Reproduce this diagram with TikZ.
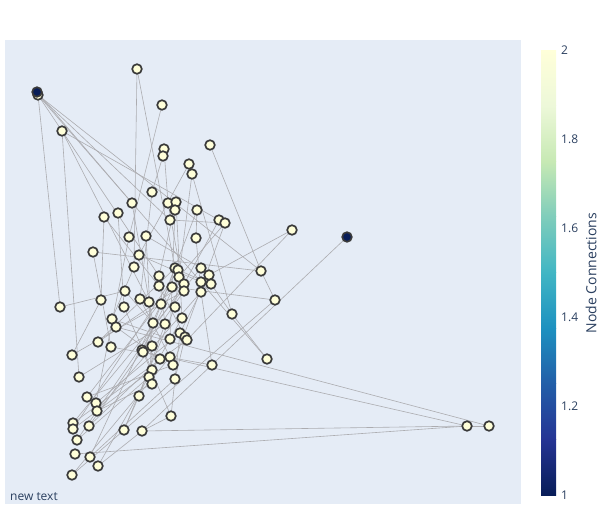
\documentclass[tikz,border=0pt]{standalone}
\usepackage{fontspec}
\setmainfont{Open Sans}
\pgfdeclarelayer{plotbg}
\pgfdeclarelayer{links}
\pgfsetlayers{plotbg,links,main}

\definecolor{plotfill}{RGB}{229,236,246}
\definecolor{linkgray}{RGB}{172,172,176}
\definecolor{nodeline}{RGB}{58,58,58}
\definecolor{lowdeg}{RGB}{8,29,88}
\definecolor{highdeg}{RGB}{255,255,217}
\definecolor{axistext}{RGB}{42,63,95}
\definecolor{cbA}{RGB}{8,29,88}
\definecolor{cbB}{RGB}{37,52,148}
\definecolor{cbC}{RGB}{34,94,168}
\definecolor{cbD}{RGB}{29,145,192}
\definecolor{cbE}{RGB}{65,182,196}
\definecolor{cbF}{RGB}{127,205,187}
\definecolor{cbG}{RGB}{199,233,180}
\definecolor{cbH}{RGB}{237,248,217}
\definecolor{cbI}{RGB}{255,255,217}

\begin{document}
\begin{tikzpicture}[x=1pt, y=-1pt,
  netnode/.style={circle, draw=nodeline, line width=1.7pt, fill=highdeg, minimum size=9.6pt, inner sep=0pt},
  endnode/.style={netnode, fill=lowdeg},
  link/.style={draw=linkgray, line width=0.6pt},
  ticklabel/.style={anchor=west, text=axistext, font=\fontsize{12}{14}\selectfont, inner sep=0pt}]
  \useasboundingbox (0,0) rectangle (613,525);
  \begin{pgfonlayer}{plotbg}
    \fill[plotfill] (5,40) rectangle (521,504);
  \end{pgfonlayer}

  % nodes of the network
  \foreach \n/\x/\y in {2/38/95, 3/137/69, 4/162/105, 5/62/131, 6/164/149, 7/163/156,
      8/210/145, 9/189/164, 10/192/174, 11/152/192, 12/132/203, 13/168/203, 14/176/202,
      15/175/210, 16/197/210, 17/118/213, 18/104/217, 19/170/220, 20/219/220, 21/225/223,
      22/292/230, 24/129/237, 25/146/236, 26/196/238, 27/93/252, 28/139/255, 29/134/267,
      30/175/268, 31/178/270, 32/201/268, 33/159/276, 34/179/277, 35/209/275, 36/261/271,
      37/159/286, 38/172/287, 39/184/284, 40/184/291, 41/201/282, 42/211/284, 43/201/292,
      44/125/291, 45/101/300, 46/140/299, 47/149/302, 48/161/304, 49/124/307, 50/175/307,
      51/60/307, 52/275/300, 53/232/314, 54/112/319, 55/116/327, 56/153/323, 57/165/324,
      58/182/318, 59/180/333, 60/185/337, 61/187/340, 62/170/339, 63/98/342, 64/111/347,
      65/142/350, 66/143/352, 67/152/346, 68/72/355, 69/160/359, 70/170/357, 71/173/365,
      72/212/365, 73/267/359, 74/152/370, 75/149/377, 76/152/384, 77/175/379, 78/79/377,
      79/87/397, 80/96/403, 81/97/411, 82/139/396, 83/171/416, 84/73/423, 85/73/429,
      86/89/426, 87/124/430, 88/142/431, 89/77/440, 90/75/454, 91/90/457, 92/98/466,
      93/72/475, 94/467/426, 95/489/426}
    \node[netnode] (n\n) at (\x,\y) {};
  \node[endnode] (n1) at (37,92) {};
  \node[endnode] (n23) at (347,237) {};

  % connections
  \begin{pgfonlayer}{links}
    \foreach \a/\b in {1/12, 2/51, 2/19, 2/36, 2/41, 2/33, 5/78, 5/47, 5/20, 3/29, 3/30, 4/24,
        6/13, 7/11, 9/28, 10/50, 10/53, 8/36, 36/52, 27/36, 22/35, 22/61, 23/88, 53/73, 41/73,
        52/93, 94/95, 94/88, 94/66, 94/90, 95/55, 51/44, 83/88, 92/88, 11/46, 12/56, 13/40,
        14/58, 14/33, 15/62, 16/26, 16/48, 17/49, 18/45, 18/37, 19/21, 20/39, 21/34, 21/71,
        24/80, 25/32, 25/67, 26/43, 27/64, 28/41, 29/54, 30/63, 31/42, 31/85, 32/84, 33/57,
        34/65, 35/59, 37/60, 38/52, 38/79, 39/89, 40/86, 42/53, 43/81, 44/56, 45/68, 46/70,
        47/76, 48/91, 49/74, 50/87, 54/62, 55/69, 57/82, 58/92, 59/80, 60/77, 61/84, 63/39,
        64/72, 65/83, 66/30, 67/75, 68/40, 69/86, 70/93, 71/79, 72/43, 74/85, 75/89, 76/81,
        77/91, 78/57, 82/87, 83/59}
      \draw[link] (n\a.center) -- (n\b.center);
  \end{pgfonlayer}

  \node[ticklabel] (note) at (10,497) {new text};

  % colour bar
  \shade[bottom color=cbA, top color=cbB] (541,495) rectangle (556,439.375);
  \shade[bottom color=cbB, top color=cbC] (541,439.375) rectangle (556,383.75);
  \shade[bottom color=cbC, top color=cbD] (541,383.75) rectangle (556,328.125);
  \shade[bottom color=cbD, top color=cbE] (541,328.125) rectangle (556,272.5);
  \shade[bottom color=cbE, top color=cbF] (541,272.5) rectangle (556,216.875);
  \shade[bottom color=cbF, top color=cbG] (541,216.875) rectangle (556,161.25);
  \shade[bottom color=cbG, top color=cbH] (541,161.25) rectangle (556,105.625);
  \shade[bottom color=cbH, top color=cbI] (541,105.625) rectangle (556,50);
  \node[ticklabel] (t2) at (561,50) {2};
  \node[ticklabel] (t18) at (561,139) {1.8};
  \node[ticklabel] (t16) at (561,228) {1.6};
  \node[ticklabel] (t14) at (561,317) {1.4};
  \node[ticklabel] (t12) at (561,406) {1.2};
  \node[ticklabel] (t1) at (561,495) {1};
  \node[rotate=90, text=axistext, font=\fontsize{14}{16}\selectfont, inner sep=0pt] (cbtitle) at (591,273) {Node Connections};
\end{tikzpicture}
\end{document}
